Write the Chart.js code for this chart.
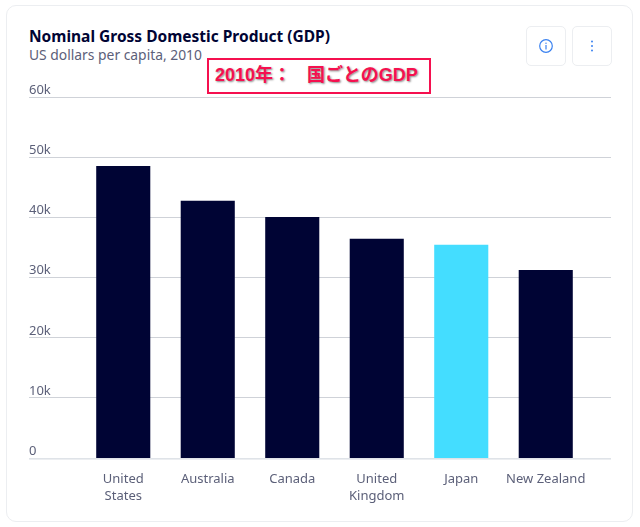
<!DOCTYPE html>
<html>
<head>
<meta charset="utf-8">
<script src="https://cdn.jsdelivr.net/npm/chart.js@4"></script>
<style>
    html, body { margin: 0; padding: 0; background: #fff; }
    body { width: 640px; height: 527px; position: relative; overflow: hidden; font-family: "Noto Sans", sans-serif; }
    #card { position: absolute; left: 6px; top: 5px; width: 627px; height: 517px; border: 1px solid #eceef1; border-radius: 10px; box-sizing: border-box; }
    #chartTitle { position: absolute; left: 29px; top: 25px; font-size: 15.5px; font-weight: 700; color: #000434; line-height: 22px; white-space: nowrap; }
    #chartSub { position: absolute; left: 29px; top: 45px; font-size: 13.85px; color: #5c6079; line-height: 20px; white-space: nowrap; }
    #note { position: absolute; left: 207px; top: 58px; width: 224px; height: 36px; border: 2px solid #f5104f; box-sizing: border-box; background: #fff; color: #f5104f; font-family: "Liberation Sans", "Noto Sans CJK JP", sans-serif; font-size: 18px; font-weight: 700; line-height: 31px; padding-left: 6px; white-space: pre; word-spacing: 3px; text-shadow: 1px 1px 2px #888; z-index: 2; }
    .btn { position: absolute; top: 26px; width: 40px; height: 40px; border: 1px solid #eceef1; border-radius: 5px; box-sizing: border-box; }
    .btn svg { display: block; margin: 9px; }
    canvas { position: absolute; left: 0; top: 0; }
</style>
</head>
<body>
<div id="card"></div>
<div id="chartTitle">Nominal Gross Domestic Product (GDP)</div>
<div id="chartSub">US dollars per capita, 2010</div>
<div id="note">2010年：  国ごとのGDP</div>
<div class="btn" style="left:526px">
    <svg width="20" height="20" viewBox="0 0 20 20"><circle cx="10" cy="10" r="6.3" fill="none" stroke="#3b82f0" stroke-width="1.2"/><rect x="9.4" y="9" width="1.2" height="4.5" fill="#3b82f0"/><rect x="9.4" y="6.6" width="1.2" height="1.3" fill="#3b82f0"/></svg>
</div>
<div class="btn" style="left:572px">
    <svg width="20" height="20" viewBox="0 0 20 20"><circle cx="10" cy="5.5" r="1" fill="#3b82f0"/><circle cx="10" cy="10" r="1" fill="#3b82f0"/><circle cx="10" cy="14.5" r="1" fill="#3b82f0"/></svg>
</div>
<canvas id="gdpChart" width="640" height="527"></canvas>
<script>
const countries = [['United', 'States'], 'Australia', 'Canada', ['United', 'Kingdom'], 'Japan', 'New Zealand'];
const gdpValues = [48600, 42800, 40100, 36500, 35500, 31300];
const barColors = ['#000434', '#000434', '#000434', '#000434', '#44ddff', '#000434'];
const yTicks = [0, 10000, 20000, 30000, 40000, 50000, 60000];
const yTickLabels = ['0', '10k', '20k', '30k', '40k', '50k', '60k'];

// gridlines run wider than the plot area, so they are drawn here
const wideGrid = {
    id: 'wideGrid',
    beforeDatasetsDraw(chart) {
        const c = chart.ctx;
        const y = chart.scales.y;
        c.save();
        yTicks.forEach(function(t) {
            const py = Math.round(y.getPixelForValue(t));
            c.fillStyle = t === 0 ? '#dfe3e8' : '#cfd2d8';
            c.fillRect(29, py - (t === 0 ? 0 : 1), 582, t === 0 ? 1.6 : 1);
        });
        c.restore();
    }
};

new Chart(document.getElementById('gdpChart').getContext('2d'), {
    type: 'bar',
    data: {
        labels: countries,
        datasets: [{
            data: gdpValues,
            backgroundColor: barColors,
            barPercentage: 0.64,
            categoryPercentage: 1
        }]
    },
    options: {
        responsive: false,
        animation: false,
        devicePixelRatio: 1,
        layout: { padding: { left: 29, right: 52, top: 97.5, bottom: 0 } },
        plugins: { legend: { display: false }, tooltip: { enabled: false } },
        scales: {
            x: {
                grid: { display: false },
                border: { display: false },
                afterFit(scale) { scale.height = 69; },
                ticks: {
                    color: '#5c6079',
                    font: { family: 'Noto Sans', size: 13, lineHeight: 1.3 },
                    maxRotation: 0,
                    autoSkip: false,
                    padding: 5
                }
            },
            y: {
                min: 0,
                max: 60000,
                afterFit(scale) { scale.width = 52; },
                afterBuildTicks(scale) { scale.ticks = yTicks.map(v => ({ value: v })); },
                grid: { display: false, drawTicks: false },
                border: { display: false },
                ticks: {
                    color: '#5c6079',
                    font: { family: 'Noto Sans', size: 13 },
                    crossAlign: 'far',
                    labelOffset: -7,
                    padding: 0,
                    callback: (v, i) => yTickLabels[i]
                }
            }
        }
    },
    plugins: [wideGrid]
});
</script>
</body>
</html>
